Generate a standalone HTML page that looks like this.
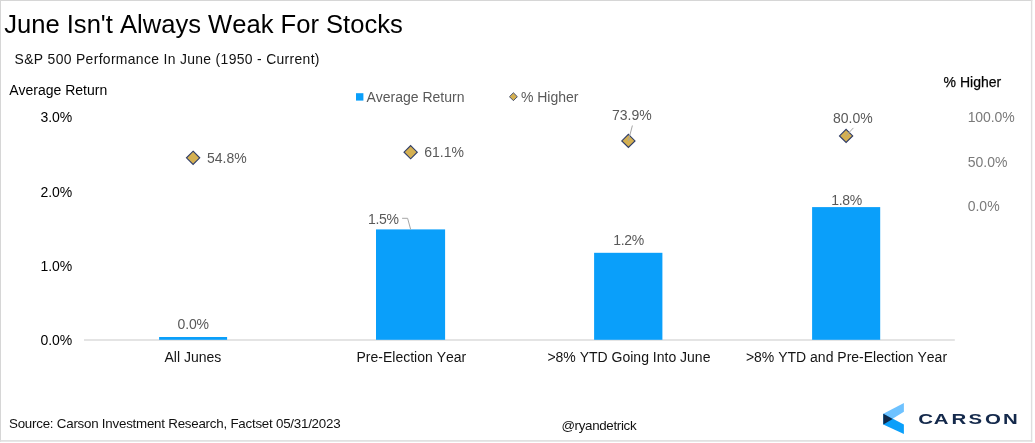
<!DOCTYPE html>
<html lang="en">
<head>
<meta charset="utf-8">
<title>June Isn't Always Weak For Stocks</title>
<style>
  html, body { margin: 0; padding: 0; background: #ffffff; }
  body { width: 1035px; height: 443px; overflow: hidden; position: relative; }
  svg { position: absolute; left: 0; top: 0; display: block; will-change: transform; }
  text { font-family: "Liberation Sans", sans-serif; font-kerning: none; }
  .title { font-size: 26.4px; fill: #000000; }
  .sub { font-size: 14.5px; fill: #111111; }
  .ax { font-size: 14px; fill: #000000; }
  .axr { font-size: 14px; fill: #7a7a7a; }
  .dl { font-size: 14px; fill: #595959; }
  .cat { font-size: 14px; fill: #141414; }
  .foot { font-size: 13.33px; fill: #111111; }
  .lead { stroke: #a6a6a6; stroke-width: 1; fill: none; }
  .bar { fill: #0a9ffa; }
  .dia { fill: #d4b052; stroke: #2f3d69; stroke-width: 1.15; }
</style>
</head>
<body>
<svg width="1035" height="443" viewBox="0 0 1035 443">
  <!-- frame -->
  <rect x="0" y="0" width="1035" height="443" fill="#ffffff"/>
  <rect x="0" y="0" width="1032.3" height="1" fill="#d6d6d6"/>
  <rect x="0" y="0" width="1" height="441.7" fill="#d6d6d6"/>
  <rect x="1030.9" y="0" width="1.4" height="441.7" fill="#dedede"/>
  <rect x="0" y="440.1" width="1032.3" height="1.6" fill="#dedede"/>

  <!-- headings -->
  <text class="title" transform="translate(4.2,33) scale(0.9690,1)">June Isn't Always Weak For Stocks</text>
  <text class="sub" transform="translate(14.6,64.3) scale(0.96,1)" textLength="317.6" lengthAdjust="spacing">S&amp;P 500 Performance In June (1950 - Current)</text>
  <text class="ax" x="9.2" y="95">Average Return</text>
  <text class="ax" x="943.6" y="86.9" font-size="13.6" stroke="#141414" stroke-width="0.25">% Higher</text>

  <!-- legend -->
  <rect class="bar" x="356" y="93.2" width="7.4" height="7.4"/>
  <text class="dl" x="366.4" y="102.4">Average Return</text>
  <polygon class="dia" points="513.4,92.75 517.35,96.7 513.4,100.65 509.45,96.7" style="stroke-width:0.85"/>
  <text class="dl" x="520.9" y="102.2">% Higher</text>

  <!-- left axis -->
  <text class="ax" x="40.4" y="122.4">3.0%</text>
  <text class="ax" x="40.4" y="196.5">2.0%</text>
  <text class="ax" x="40.4" y="270.7">1.0%</text>
  <text class="ax" x="40.4" y="344.9">0.0%</text>

  <!-- right axis -->
  <text class="axr" x="967.7" y="122.4" textLength="46.9" lengthAdjust="spacing">100.0%</text>
  <text class="axr" x="967.7" y="166.7">50.0%</text>
  <text class="axr" x="967.7" y="211.1">0.0%</text>

  <!-- baseline -->
  <rect x="84" y="339.1" width="870.8" height="1.8" fill="#e1e1e1"/>

  <!-- bars -->
  <rect class="bar" x="159.1" y="337" width="68" height="2.8"/>
  <rect class="bar" x="376" y="229.4" width="69.1" height="110.4"/>
  <rect class="bar" x="594.1" y="252.8" width="68.3" height="87"/>
  <rect class="bar" x="812.1" y="207.1" width="68.1" height="132.7"/>

  <!-- bar labels -->
  <text class="dl" x="177.6" y="329.3" textLength="31.4" lengthAdjust="spacing">0.0%</text>
  <text class="dl" x="368" y="223.8" textLength="30.9" lengthAdjust="spacing">1.5%</text>
  <polyline class="lead" points="402.1,218.3 407.6,218.3 410.7,229.5"/>
  <text class="dl" x="613.2" y="244.6" textLength="31" lengthAdjust="spacing">1.2%</text>
  <text class="dl" x="831.2" y="204.9" textLength="31" lengthAdjust="spacing">1.8%</text>

  <!-- diamonds and labels -->
  <polygon class="dia" points="193.1,151.20 199.70,157.8 193.1,164.40 186.50,157.8"/>
  <text class="dl" x="207" y="163">54.8%</text>

  <polygon class="dia" points="410.65,145.60 417.25,152.2 410.65,158.80 404.05,152.2"/>
  <text class="dl" x="424.3" y="156.9">61.1%</text>

  <polygon class="dia" points="628.4,134.30 635.00,140.9 628.4,147.50 621.80,140.9"/>
  <line class="lead" x1="632.4" y1="125.5" x2="628.4" y2="140.8"/>
  <text class="dl" x="612" y="120.3">73.9%</text>

  <polygon class="dia" points="846.1,129.30 852.70,135.9 846.1,142.50 839.50,135.9"/>
  <line class="lead" x1="853.4" y1="127.9" x2="846.1" y2="135.7"/>
  <text class="dl" x="833" y="122.8">80.0%</text>

  <!-- category labels -->
  <text class="cat" x="164.5" y="361.8">All Junes</text>
  <text class="cat" x="356.5" y="361.8">Pre-Election Year</text>
  <text class="cat" x="547.4" y="361.8">&gt;8% YTD Going Into June</text>
  <text class="cat" x="745.9" y="361.8">&gt;8% YTD and Pre-Election Year</text>

  <!-- footer -->
  <text class="foot" x="9" y="427.9" textLength="331.6" lengthAdjust="spacing">Source: Carson Investment Research, Factset 05/31/2023</text>
  <text class="foot" x="561.4" y="429.5" textLength="75.2" lengthAdjust="spacing">@ryandetrick</text>

  <!-- logo -->
  <polygon points="883.3,413.8 903.9,402.9 903.9,411.8 883.3,424.4" fill="#6ec2ff"/>
  <polygon points="883.3,413.8 903.9,424.4 903.9,434.1 883.3,424.4" fill="#0a9ffa"/>
  <polygon points="883.3,413.8 892.7,419 883.3,424.4" fill="#10294a"/>
  <text transform="translate(918.2,423.8) scale(1.42,1)" x="0 11 23.4 35.5 47.1 59.7" y="0" font-size="14.4" font-weight="bold" fill="#14294b">CARSON</text>
</svg>
</body>
</html>
